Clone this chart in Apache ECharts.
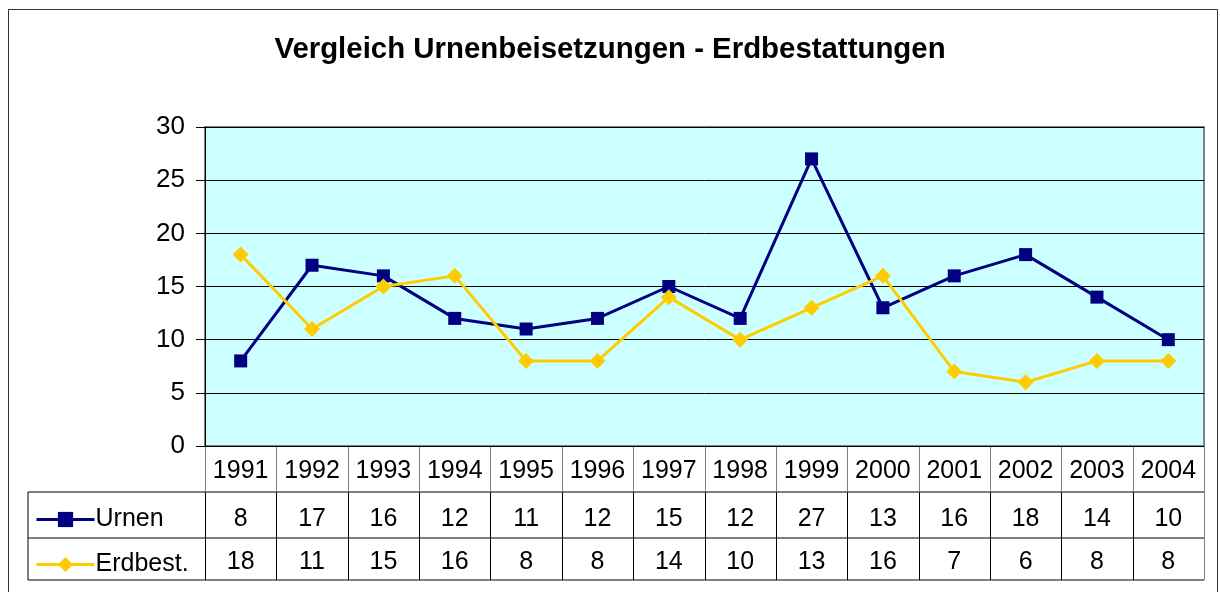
<!DOCTYPE html>
<html>
<head>
<meta charset="utf-8">
<script src="https://cdn.jsdelivr.net/npm/echarts@6/dist/echarts.min.js"></script>
<style>
html, body { margin: 0; padding: 0; background: #fff; }
#main { width: 1220px; height: 592px; }
</style>
</head>
<body>
<div id="main"></div>
<script>
var years = ['1991','1992','1993','1994','1995','1996','1997','1998','1999','2000','2001','2002','2003','2004'];
var urnen = [8, 17, 16, 12, 11, 12, 15, 12, 27, 13, 16, 18, 14, 10];
var erdbest = [18, 11, 15, 16, 8, 8, 14, 10, 13, 16, 7, 6, 8, 8];
var yTicks = [0, 5, 10, 15, 20, 25, 30];

var FONT = '"Liberation Sans", Arial, sans-serif';
var L = 205, R = 1204, T = 127, B = 446;
var ROW1 = 492, ROW2 = 538, ROW3 = 580, TBL_LEFT = 28;

// Gitterlinien der Datentabelle
function tableLines() {
    var g = [];
    var w = (R - L) / years.length;
    g.push({type: 'line', shape: {x1: TBL_LEFT, y1: ROW1, x2: R, y2: ROW1}, style: {stroke: '#000', lineWidth: 1}});
    g.push({type: 'line', shape: {x1: TBL_LEFT, y1: ROW2, x2: R, y2: ROW2}, style: {stroke: '#000', lineWidth: 1}});
    g.push({type: 'line', shape: {x1: TBL_LEFT, y1: ROW3, x2: R, y2: ROW3}, style: {stroke: '#000', lineWidth: 1}});
    g.push({type: 'line', shape: {x1: TBL_LEFT, y1: ROW1, x2: TBL_LEFT, y2: ROW3}, style: {stroke: '#000', lineWidth: 1}});
    for (var i = 0; i <= years.length; i++) {
        var x = Math.round(L + i * w) + 0.5;
        g.push({type: 'line', shape: {x1: x, y1: B, x2: x, y2: ROW1}, style: {stroke: '#808080', lineWidth: 1}});
        g.push({type: 'line', shape: {x1: x, y1: ROW1, x2: x, y2: ROW3}, style: {stroke: i === years.length ? '#808080' : '#000', lineWidth: 1}});
    }
    // Rahmen um das ganze Diagramm
    g.push({type: 'rect', shape: {x: 8.5, y: 9.5, width: 1209, height: 600}, style: {fill: null, stroke: '#333', lineWidth: 1}});
    return g;
}

var myChart = echarts.init(document.getElementById('main'));
var option = {
    animation: false,
    backgroundColor: '#fff',
    title: {
        text: 'Vergleich Urnenbeisetzungen - Erdbestattungen',
        left: 'center',
        top: 30,
        textStyle: {fontFamily: FONT, fontSize: 29.4, fontWeight: 'bold', color: '#000'}
    },
    legend: {
        orient: 'vertical',
        left: 30,
        top: 502,
        itemWidth: 58,
        itemHeight: 19,
        itemGap: 20,
        data: ['Urnen', 'Erdbest.'],
        lineStyle: {width: 3},
        textStyle: {fontFamily: FONT, fontSize: 25, color: '#000', padding: [0, 0, 0, -4]}
    },
    grid: {
        left: L, right: 1220 - R, top: T, bottom: 592 - B,
        show: true,
        backgroundColor: '#ccffff',
        borderColor: '#808080',
        borderWidth: 2
    },
    xAxis: [{
        type: 'category',
        data: years,
        position: 'bottom',
        axisLine: {show: false},
        axisTick: {show: false},
        axisLabel: {fontFamily: FONT, fontSize: 25, color: '#000', margin: 13, interval: 0}
    }, {
        type: 'category',
        data: years,
        position: 'bottom',
        offset: ROW1 - B,
        axisLine: {show: false},
        axisTick: {show: false},
        axisLabel: {fontFamily: FONT, fontSize: 25, color: '#000', margin: 15, interval: 0,
            formatter: function (v, i) { return String(urnen[i]); }}
    }, {
        type: 'category',
        data: years,
        position: 'bottom',
        offset: ROW2 - B,
        axisLine: {show: false},
        axisTick: {show: false},
        axisLabel: {fontFamily: FONT, fontSize: 25, color: '#000', margin: 12, interval: 0,
            formatter: function (v, i) { return String(erdbest[i]); }}
    }],
    yAxis: {
        type: 'value',
        min: yTicks[0],
        max: yTicks[yTicks.length - 1],
        interval: 5,
        axisLine: {show: true, lineStyle: {color: '#000', width: 1}},
        axisTick: {show: true, length: 9, lineStyle: {color: '#000'}},
        axisLabel: {fontFamily: FONT, fontSize: 26, color: '#000', margin: 20},
        splitLine: {show: true, lineStyle: {color: '#000', width: 1}}
    },
    series: [{
        name: 'Urnen',
        type: 'line',
        data: urnen,
        symbol: 'rect',
        symbolSize: 13,
        color: '#000080',
        lineStyle: {width: 3, color: '#000080'},
        itemStyle: {color: '#000080'}
    }, {
        name: 'Erdbest.',
        type: 'line',
        data: erdbest,
        symbol: 'diamond',
        symbolSize: 16,
        color: '#ffcc00',
        lineStyle: {width: 3, color: '#ffcc00'},
        itemStyle: {color: '#ffcc00'}
    }],
    graphic: tableLines()
};
myChart.setOption(option);
</script>
</body>
</html>
